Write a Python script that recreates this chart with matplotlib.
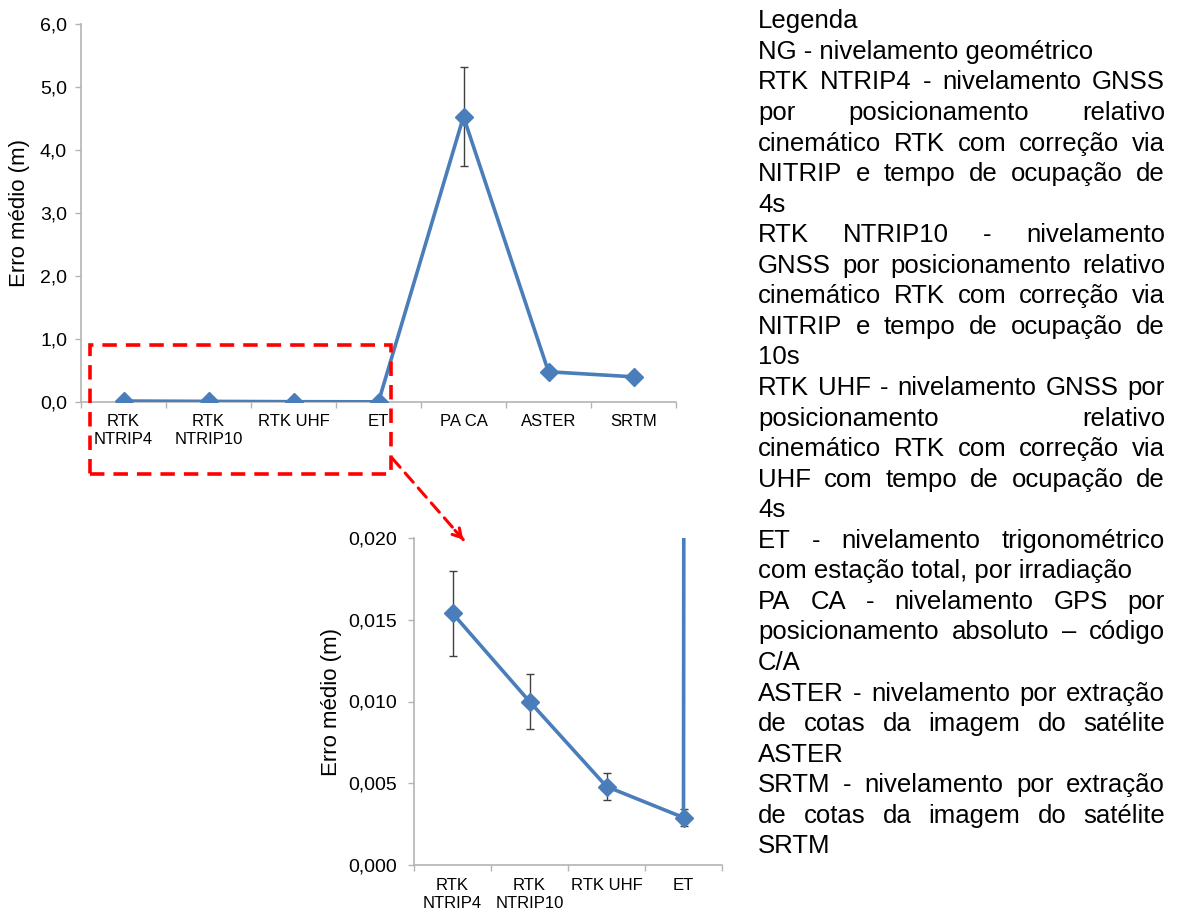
import numpy as np
import matplotlib.pyplot as plt
from matplotlib.patches import Rectangle, ConnectionPatch

plt.rcParams['font.family'] = ['Liberation Sans', 'DejaVu Sans']

# --- Dados: erro médio (m) e desvio por método ---
categorias = ['RTK\nNTRIP4', 'RTK\nNTRIP10', 'RTK UHF', 'ET', 'PA CA', 'ASTER', 'SRTM']
erro_medio = [0.0154, 0.0100, 0.0048, 0.0029, 4.53, 0.48, 0.40]
desvio = [0.0026, 0.0017, 0.0008, 0.0005, 0.78, 0.0, 0.0]

yticks_geral = [0.0, 1.0, 2.0, 3.0, 4.0, 5.0, 6.0]
yticks_zoom = [0.000, 0.005, 0.010, 0.015, 0.020]

# legenda: cada parágrafo é uma lista de linhas (a última não é justificada)
paragrafos = [
    ['Legenda'],
    ['NG - nivelamento geométrico'],
    ['RTK NTRIP4 - nivelamento GNSS',
     'por posicionamento relativo',
     'cinemático RTK com correção via',
     'NITRIP e tempo de ocupação de',
     '4s'],
    ['RTK NTRIP10 - nivelamento',
     'GNSS por posicionamento relativo',
     'cinemático RTK com correção via',
     'NITRIP e tempo de ocupação de',
     '10s'],
    ['RTK UHF - nivelamento GNSS por',
     'posicionamento relativo',
     'cinemático RTK com correção via',
     'UHF com tempo de ocupação de',
     '4s'],
    ['ET - nivelamento trigonométrico',
     'com estação total, por irradiação'],
    ['PA CA - nivelamento GPS por',
     'posicionamento absoluto – código',
     'C/A'],
    ['ASTER - nivelamento por extração',
     'de cotas da imagem do satélite',
     'ASTER'],
    ['SRTM - nivelamento por extração',
     'de cotas da imagem do satélite',
     'SRTM'],
]

AZUL = '#4A7EBB'
CINZA = '#B4B4B4'
W, H = 1180, 911

fig = plt.figure(figsize=(W / 100, H / 100), dpi=100)


def px_axes(x0, y0, x1, y1):
    """Cria eixos a partir de coordenadas em pixels (origem no topo)."""
    return fig.add_axes([x0 / W, 1 - y1 / H, (x1 - x0) / W, (y1 - y0) / H])


def estilo_eixos(ax, yticks, fmt, ypad):
    x = np.arange(len(categorias))
    ax.errorbar(x, erro_medio, yerr=desvio, fmt='none', ecolor='#404040',
                elinewidth=1.0, capsize=3, capthick=1.0, zorder=2)
    ax.plot(x, erro_medio, color=AZUL, lw=2.6, marker='D', ms=9.5,
            mec=AZUL, mfc=AZUL, zorder=3)
    for s in ['top', 'right']:
        ax.spines[s].set_visible(False)
    for s in ['left', 'bottom']:
        ax.spines[s].set_color(CINZA)
        ax.spines[s].set_linewidth(1.2)
    ax.set_yticks(yticks)
    ax.set_yticklabels([fmt.format(v).replace('.', ',') for v in yticks])
    ax.tick_params(axis='y', direction='out', length=4, width=1.0,
                   color=CINZA, labelsize=14, pad=ypad)
    ax.set_xticks(x)
    ax.set_xticklabels(categorias, fontsize=12)
    for lbl in ax.get_xticklabels():
        lbl.set_linespacing(1.25)
    ax.set_xticks(np.arange(len(categorias) + 1) - 0.5, minor=True)
    ax.tick_params(axis='x', which='major', length=0, pad=9)
    ax.tick_params(axis='x', which='minor', direction='out', length=4,
                   width=1.0, color=CINZA)
    ax.set_ylabel('Erro médio (m)', fontsize=16)


# --- Gráfico geral ---
ax = px_axes(81, 24, 676, 402)
estilo_eixos(ax, yticks_geral, '{:.1f}', 6)
ax.set_xlim(-0.5, 6.5)
ax.set_ylim(0, 6.0)
ax.yaxis.set_label_coords(-0.085, 0.5)

# --- Detalhe dos métodos de maior precisão ---
ins = px_axes(414, 538, 722, 865)
estilo_eixos(ins, yticks_zoom, '{:.3f}', 8)
ins.set_xlim(-0.5, 3.5)
ins.set_ylim(0, 0.020)
ins.yaxis.set_label_coords(-0.235, 0.5)

# caixa tracejada e seta ligando os dois gráficos
ax.add_patch(Rectangle((-0.394, -1.14), 3.54, 2.045, fill=False,
                       ec='#FF0000', lw=2.6, ls=(0, (4, 2.5)),
                       clip_on=False, zorder=5))
con = ConnectionPatch(xyA=(3.16, -0.89), coordsA=ax.transData,
                      xyB=(0.14, 0.0199), coordsB=ins.transData,
                      color='#FF0000', lw=2.2, ls=(0, (4, 2.5)))
fig.add_artist(con)
ins.annotate('', xy=(0.14, 0.0199), xytext=(-6, 6.7), textcoords='offset points',
             annotation_clip=False,
             arrowprops=dict(arrowstyle='->,head_length=0.6,head_width=0.35',
                             color='#FF0000', lw=2.2, shrinkA=0, shrinkB=0))

# --- Legenda em texto justificado ---
FS = 18.5
ESQ, DIR = 758, 1165
renderer = fig.canvas.get_renderer()


def largura(txt):
    t = fig.text(0, 0, txt, fontsize=FS)
    w = t.get_window_extent(renderer).width
    t.remove()
    return w


linha = 0
for par in paragrafos:
    for k, txt in enumerate(par):
        base = 28.3 + linha * 30.56
        yb = 1 - base / H
        palavras = txt.split(' ')
        justificar = k < len(par) - 1 and len(palavras) > 1
        if not justificar:
            fig.text(ESQ / W, yb, txt, fontsize=FS, va='baseline', ha='left')
        else:
            larg = [largura(p) for p in palavras]
            gap = (DIR - ESQ - sum(larg)) / (len(palavras) - 1)
            x = ESQ
            for p, w in zip(palavras, larg):
                fig.text(x / W, yb, p, fontsize=FS, va='baseline', ha='left')
                x += w + gap
        linha += 1

fig.savefig('out.png', dpi=100)
